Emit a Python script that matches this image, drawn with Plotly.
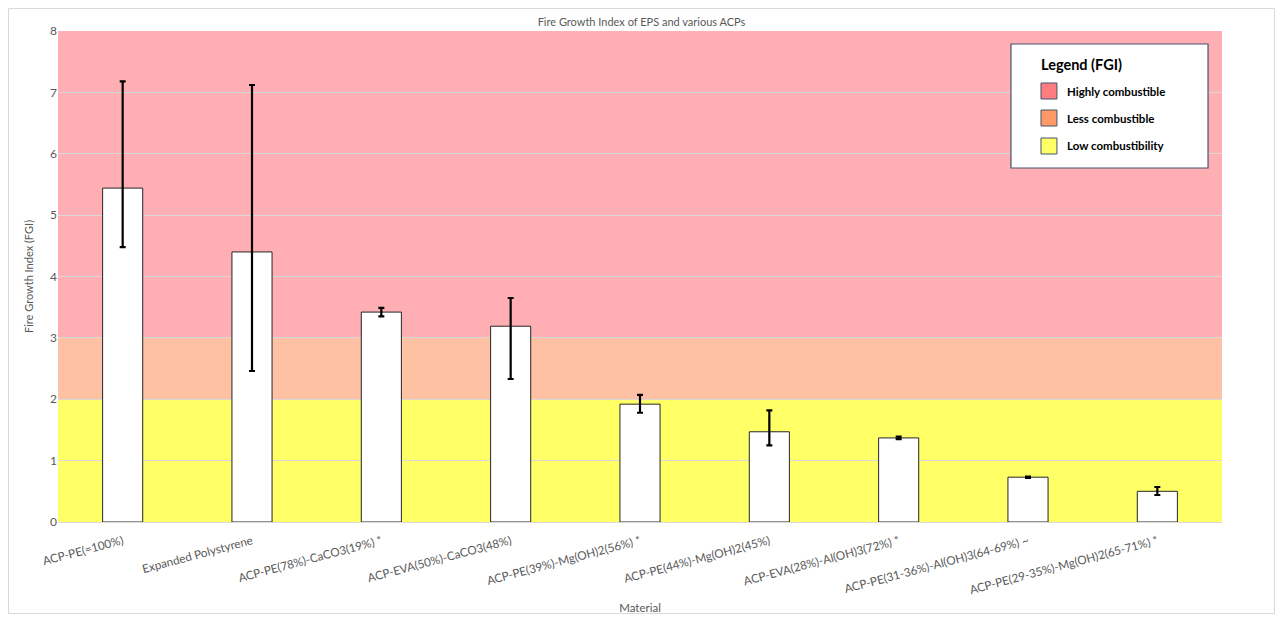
import plotly.graph_objects as go

materials = [
    "ACP-PE(=100%)",
    "Expanded Polystyrene",
    "ACP-PE(78%)-CaCO3(19%) *",
    "ACP-EVA(50%)-CaCO3(48%)",
    "ACP-PE(39%)-Mg(OH)2(56%) *",
    "ACP-PE(44%)-Mg(OH)2(45%)",
    "ACP-EVA(28%)-Al(OH)3(72%) *",
    "ACP-PE(31-36%)-Al(OH)3(64-69%) ~",
    "ACP-PE(29-35%)-Mg(OH)2(65-71%) *",
]
fgi = [5.44, 4.40, 3.42, 3.19, 1.92, 1.47, 1.37, 0.73, 0.50]
err_plus = [1.74, 2.72, 0.07, 0.46, 0.15, 0.35, 0.02, 0.01, 0.07]
err_minus = [0.96, 1.94, 0.07, 0.86, 0.14, 0.22, 0.02, 0.01, 0.06]

band_names = ["Highly combustible", "Less combustible", "Low combustibility"]
band_low = [3, 2, 0]
band_high = [8, 3, 2]
band_colors = ["#FFAEB4", "#FFC1A4", "#FFFF66"]
swatch_colors = ["#FF7C80", "#FF9966", "#FFFF66"]

font_family = "Lato, Carlito, 'Open Sans', sans-serif"

W, H = 1267, 606
ML, MR, MT, MB = 50, 53, 23, 92
PW, PH = W - ML - MR, H - MT - MB

fig = go.Figure()
fig.add_trace(go.Bar(
    x=materials, y=fgi, width=0.31,
    marker=dict(color="white", line=dict(color="#262626", width=1)),
    error_y=dict(type="data", symmetric=False, array=err_plus, arrayminus=err_minus,
                 color="black", thickness=2.2, width=3),
    showlegend=False,
))

shapes = []
for lo, hi, c in zip(band_low, band_high, band_colors):
    shapes.append(dict(type="rect", xref="paper", yref="y", x0=0, x1=1, y0=lo, y1=hi,
                       fillcolor=c, line=dict(width=0), layer="below"))

# legend box
lx0, lx1, ly0, ly1 = 0.8187, 0.988, 0.721, 0.9735
shapes.append(dict(type="rect", xref="paper", yref="paper", x0=lx0, x1=lx1, y0=ly0, y1=ly1,
                   fillcolor="white", line=dict(color="#44546A", width=1.2), layer="above"))
annotations = [dict(text="<b>Legend (FGI)</b>", xref="paper", yref="paper", x=0.8430, y=0.9320,
                    xanchor="left", yanchor="middle", showarrow=False,
                    font=dict(size=14.5, color="black", family=font_family))]
item_y = [0.8778, 0.8228, 0.7658]
for name, c, yy in zip(band_names, swatch_colors, item_y):
    shapes.append(dict(type="rect", xref="paper", yref="paper", x0=0.8445, x1=0.8582,
                       y0=yy - 0.0163, y1=yy + 0.0163, fillcolor=c,
                       line=dict(color="#44546A", width=1), layer="above"))
    annotations.append(dict(text="<b>" + name + "</b>", xref="paper", yref="paper", x=0.8651, y=yy,
                            xanchor="left", yanchor="middle", showarrow=False,
                            font=dict(size=11.5, color="black", family=font_family)))

# outer chart border
shapes.append(dict(type="rect", xref="paper", yref="paper",
                   x0=-(ML - 0.5) / PW, x1=1 + (MR - 0.5) / PW,
                   y0=-(MB - 0.5) / PH, y1=1 + (MT - 0.5) / PH,
                   line=dict(color="#D9D9D9", width=1), fillcolor="rgba(0,0,0,0)", layer="below"))

fig.update_layout(
    width=W, height=H,
    margin=dict(l=ML, r=MR, t=MT, b=MB, autoexpand=False),
    paper_bgcolor="white", plot_bgcolor="white",
    font=dict(family=font_family, color="#595959", size=11),
    title=dict(text="Fire Growth Index of EPS and various ACPs", x=0.5, xanchor="center",
               y=1 - 14 / H, yanchor="middle", font=dict(size=11, color="#595959")),
    shapes=shapes, annotations=annotations,
)
fig.update_yaxes(range=[0, 8], dtick=1, showgrid=True, gridcolor="#D9D9D9", gridwidth=1,
                 zeroline=False, showline=False, ticks="", automargin=False,
                 title=dict(text="Fire Growth Index (FGI)", font=dict(size=11, color="#595959"), standoff=14),
                 tickfont=dict(size=12, color="#595959"))
fig.update_xaxes(tickangle=-15, showline=True, linecolor="#D9D9D9", ticks="", automargin=False,
                 ticklabelstandoff=7,
                 title=dict(text="Material", font=dict(size=11.5, color="#595959"), standoff=8),
                 tickfont=dict(size=11.7, color="#595959"))

fig.write_html("out.html")
